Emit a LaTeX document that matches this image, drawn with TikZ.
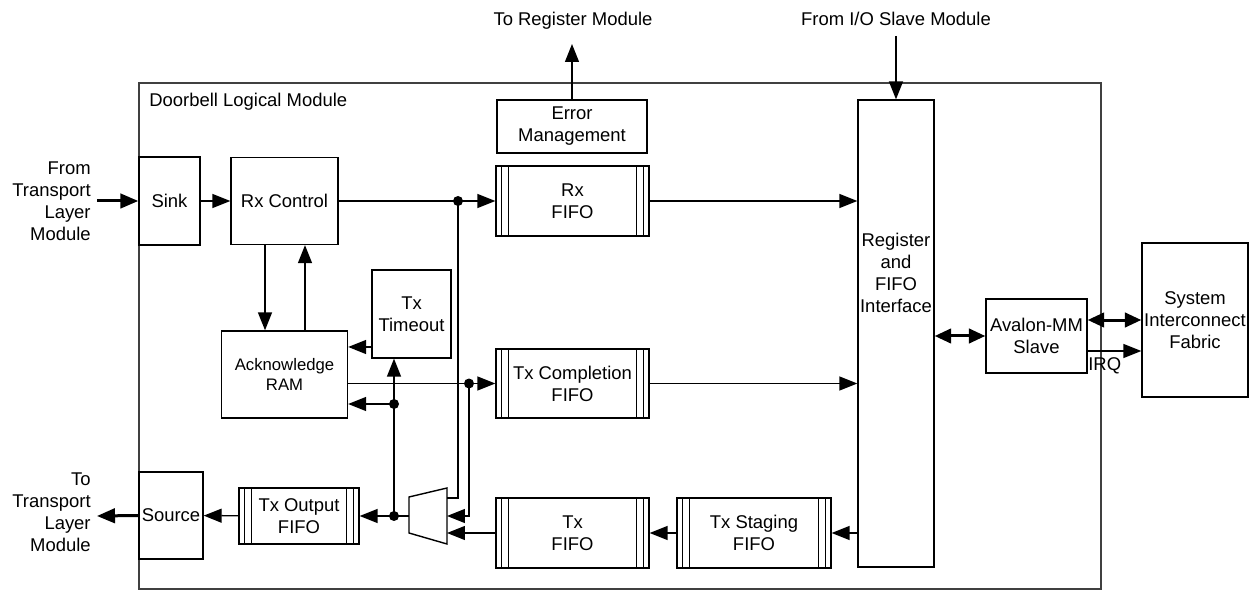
\documentclass[tikz,border=0pt]{standalone}
\usepackage{fontspec}
\setmainfont{Liberation Sans}
\usetikzlibrary{arrows.meta,positioning,calc}

\begin{document}
\begin{tikzpicture}[x=0.02cm,y=-0.02cm,
      font=\fontsize{10.5}{12.5}\selectfont,
      box/.style={draw,line width=0.8pt,align=center,inner sep=1pt},
      fifo/.style={box,path picture={
          \foreach \d in {0.11,0.25}{
            \draw[line width=0.8pt] ([xshift=\d cm]path picture bounding box.south west)
              -- ([xshift=\d cm]path picture bounding box.north west);
            \draw[line width=0.8pt] ([xshift=-\d cm]path picture bounding box.south east)
              -- ([xshift=-\d cm]path picture bounding box.north east);}}},
      ln/.style={line width=0.8pt},
      a/.style={-{Triangle[length=3.6mm,width=2.8mm]},line width=0.8pt},
      thk/.style={-{Triangle[length=3.6mm,width=2.9mm]},line width=0.6mm},
      dbl/.style={{Triangle[length=3.3mm,width=2.9mm]}-{Triangle[length=3.3mm,width=2.9mm]},line width=0.6mm},
      dot/.style={circle,fill,inner sep=0pt,minimum size=2mm},
      lbl/.style={inner sep=0pt,align=right}]
    \useasboundingbox (0,0) rectangle (1252,601);

    % module frame
    \node[box,draw=black!75,line width=1pt,minimum width=19.24cm,minimum height=10.12cm] (dlm) at (620,336) {};
    \node[anchor=base west,inner sep=0pt] (dlmtxt) at (149,107) {Doorbell Logical Module};

    % blocks
    \node[box,minimum width=1.22cm,minimum height=1.76cm] (sink) at (169.5,201) {Sink};
    \node[box,minimum width=2.14cm,minimum height=1.74cm] (rxctl) at (284.5,201) {Rx Control};
    \node[box,minimum width=2.52cm,minimum height=1.74cm,font=\fontsize{9.5}{11.5}\selectfont] (ackram) at (284.5,374.5) {Acknowledge\\RAM};
    \node[box,minimum width=1.58cm,minimum height=1.76cm] (txto) at (411.5,314) {Tx\\Timeout};
    \node[box,minimum width=3.0cm,minimum height=1.06cm] (errmgmt) at (572,126.5) {Error\\Management};
    \node[fifo,minimum width=3.06cm,minimum height=1.4cm] (rxfifo) at (572.5,201) {Rx\\FIFO};
    \node[fifo,minimum width=3.06cm,minimum height=1.38cm] (tcfifo) at (572.5,383.5) {Tx Completion\\FIFO};
    \node[fifo,minimum width=3.06cm,minimum height=1.4cm] (txfifo) at (572.5,533) {Tx\\FIFO};
    \node[fifo,minimum width=3.08cm,minimum height=1.4cm] (tsfifo) at (754,533) {Tx Staging\\FIFO};
    \node[fifo,minimum width=2.4cm,minimum height=1.12cm] (txout) at (299,516) {Tx Output\\FIFO};
    \node[box,minimum width=1.28cm,minimum height=1.74cm,inner sep=0pt] (source) at (171,515.5) {Source};
    \node[box,minimum width=1.52cm,minimum height=9.34cm] (regif) at (896,333.5) {};
    \node[align=center,inner sep=0pt] (regiftxt) at (896,273) {Register\\and\\FIFO\\Interface};
    \node[box,minimum width=2.02cm,minimum height=1.48cm] (avalon) at (1036.5,336) {Avalon-MM\\Slave};
    \node[box,minimum width=2.12cm,minimum height=3.08cm,inner sep=0pt] (sysfab) at (1195,320) {System\\Interconnect\\Fabric};

    % mux
    \draw[line width=0.8pt] (409,497) -- (447,488) -- (447,544) -- (409,533) -- cycle;
    \coordinate (muxin1) at (447,498);
    \coordinate (muxin2) at (447,516);
    \coordinate (muxin3) at (447,533);
    \coordinate (muxout) at (409,516);

    % outside labels
    \coordinate (fromtl) at (97,201);
    \coordinate (totl) at (97,516);
    \coordinate (toreg) at (573,44);
    \coordinate (fromio) at (896,36);
    \node[lbl,anchor=east] (fromtltxt) at (91,201) {From\\Transport\\Layer\\Module};
    \node[lbl,anchor=east] (totltxt) at (91,512) {To\\Transport\\Layer\\Module};
    \node[anchor=base,inner sep=0pt] (toregtxt) at (573,26) {To Register Module};
    \node[anchor=base,inner sep=0pt] (fromiotxt) at (896,26) {From I/O Slave Module};

    % receive side
    \draw[thk] (fromtl) -- (sink.west);
    \draw[a] (sink) -- (rxctl);
    \draw[a] (rxctl) -- (rxfifo);
    \draw[a] ([xshift=-0.39cm]rxctl.south) -- ([xshift=-0.39cm]rxctl.south |- ackram.north);
    \draw[a] ([xshift=0.41cm]ackram.north) -- ([xshift=0.41cm]ackram.north |- rxctl.south);
    \draw[a] ([yshift=-0.66cm]txto.west) -- ([yshift=-0.66cm]txto.west -| ackram.east);
    \draw[a] (ackram.east |- tcfifo.west) -- (tcfifo.west);
    \draw[a] (errmgmt.north) -- (errmgmt.north |- toreg);
    \draw[a] (fromio) -- (regif.north);
    \draw[a] (rxfifo.east) -- (rxfifo.east -| regif.west);
    \draw[a] (tcfifo.east) -- (tcfifo.east -| regif.west);

    % transmit side
    \draw[a] (tsfifo.east -| regif.west) -- (tsfifo.east);
    \draw[a] (tsfifo) -- (txfifo);
    \draw[a] (txfifo.west) -- (muxin3);
    \node[dot] (rxdot) at (458,201) {};
    \node[dot] (tcdot) at (469,383.5) {};
    \node[dot] (outdot) at (394,516) {};
    \node[dot] (ackdot) at (394,404) {};
    \draw[ln] (rxdot.center) |- (muxin1);
    \draw[a] (tcdot.center) |- (muxin2);
    \draw[a] (muxout) -- (txout.east);
    \draw[a] (outdot.center) -- (outdot |- txto.south);
    \draw[a] (ackdot.center) -- (ackdot -| ackram.east);
    \draw[a] (txout) -- (source);
    \draw[thk] (source.west) -- (totl);

    % bus side
    \draw[dbl] (avalon.west -| regif.east) -- (avalon.west);
    \draw[dbl] ([yshift=0.32cm]avalon.east) -- ([yshift=0.32cm]avalon.east -| sysfab.west);
    \draw[a] ([yshift=-0.3cm]avalon.east) -- ([yshift=-0.3cm]avalon.east -| sysfab.west);
    \node[anchor=base west,inner sep=0pt] (irq) at (1088,371) {IRQ};
  \end{tikzpicture}
\end{document}
